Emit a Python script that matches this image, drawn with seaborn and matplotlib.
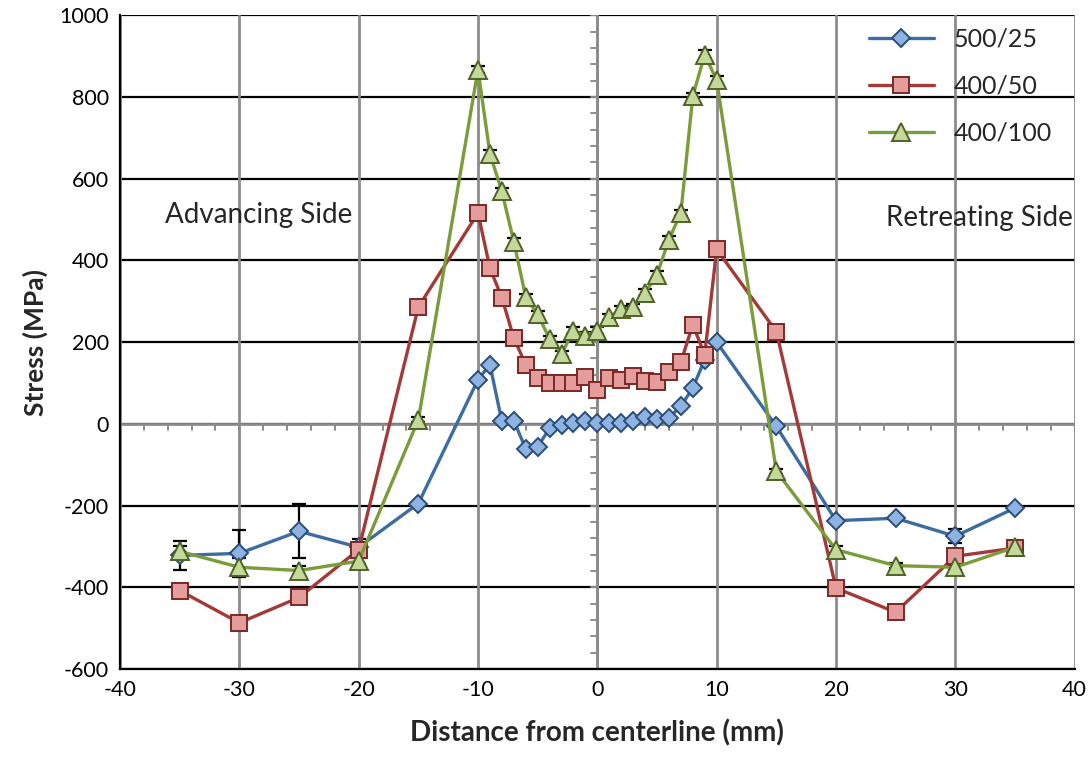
import numpy as np
import pandas as pd
import matplotlib
matplotlib.use("Agg")
import matplotlib.pyplot as plt
import seaborn as sns

# Measurement positions (mm from weld centerline)
dist_500_25 = [-35, -30, -25, -20, -15, -10, -9, -8, -7, -6, -5, -4, -3, -2, -1, 0,
               1, 2, 3, 4, 5, 6, 7, 8, 9, 10, 15, 20, 25, 30, 35]
stress_500_25 = [-322, -317, -263, -302, -195, 108, 145, 6, 8, -61, -56, -11, -2, 2, 6, 3,
                 3, 1, 6, 16, 12, 15, 43, 88, 157, 200, -6, -237, -231, -275, -206]
err_500_25 = [35, 56, 66, 20, 0, 0, 0, 0, 0, 0, 0, 0, 0, 0, 0, 0,
              0, 0, 0, 0, 0, 0, 0, 0, 0, 0, 0, 0, 0, 17, 0]

dist_400_50 = dist_500_25
stress_400_50 = [-408, -487, -425, -308, 286, 516, 381, 309, 210, 145, 113, 100, 100, 100, 114, 83,
                 113, 108, 116, 106, 102, 128, 151, 243, 169, 427, 226, -402, -461, -324, -304]
err_400_50 = [0, 0, 0, 10, 0, 0, 0, 0, 0, 0, 0, 0, 0, 0, 0, 0,
              0, 0, 0, 0, 0, 0, 0, 0, 0, 0, 0, 0, 0, 10, 0]

dist_400_100 = dist_500_25
stress_400_100 = [-312, -351, -359, -336, 10, 867, 661, 569, 446, 310, 268, 208, 171, 228, 216, 228,
                  261, 280, 286, 321, 365, 451, 516, 802, 904, 841, -116, -308, -347, -351, -302]
err_400_100 = [12, 23, 10, 8, 6, 8, 10, 8, 10, 8, 8, 8, 8, 8, 8, 8,
               8, 8, 8, 8, 8, 8, 8, 8, 10, 10, 6, 8, 6, 6, 6]

series_names = ["500/25", "400/50", "400/100"]
x_ticks = list(range(-40, 41, 10))
y_ticks = list(range(-600, 1001, 200))

sns.set_theme(style="white")
plt.rcParams["font.family"] = ["Lato", "DejaVu Sans"]
plt.rcParams["axes.unicode_minus"] = False

fig = plt.figure(figsize=(10.91, 7.65), dpi=100)
ax = fig.add_axes([0.110, 0.1255, 0.875, 0.8545])

styles = [
    dict(color="#3D6CA3", marker="D", markersize=9, markerfacecolor="#8DB3E2",
         markeredgecolor="#2B4C75", markeredgewidth=1.4),
    dict(color="#A33A37", marker="s", markersize=12, markerfacecolor="#E49D9B",
         markeredgecolor="#7A2826", markeredgewidth=1.4),
    dict(color="#7A9C3A", marker="^", markersize=13, markerfacecolor="#C4D89A",
         markeredgecolor="#4F6328", markeredgewidth=1.4),
]
data = [
    (dist_500_25, stress_500_25, err_500_25),
    (dist_400_50, stress_400_50, err_400_50),
    (dist_400_100, stress_400_100, err_400_100),
]

for name, (xs, ys, es), st in zip(series_names, data, styles):
    df = pd.DataFrame({"x": xs, "y": ys})
    sns.lineplot(data=df, x="x", y="y", estimator=None, sort=False, ax=ax,
                 linewidth=2.4, label=name, zorder=4, **st)
    es = np.asarray(es, dtype=float)
    mask = es > 0
    ax.errorbar(np.asarray(xs)[mask], np.asarray(ys)[mask], yerr=es[mask], fmt="none",
                ecolor="black", elinewidth=1.6, capsize=5, capthick=1.6, zorder=3)

ax.set_xlim(-40, 40)
ax.set_ylim(-600, 1000)
ax.set_xticks(x_ticks)
ax.set_yticks(y_ticks)

# Grid: black horizontal, grey vertical
for yv in y_ticks:
    ax.axhline(yv, color="black", linewidth=1.6, zorder=1)
for xv in x_ticks:
    ax.axvline(xv, color="#8C8C8C", linewidth=2.0, zorder=1)

# Crossing axes through the origin with minor ticks
ax.axhline(0, color="#8C8C8C", linewidth=2.0, zorder=1.5)
ax.axvline(0, color="#8C8C8C", linewidth=2.0, zorder=1.5)
for xv in np.arange(-40, 41, 2):
    ax.plot([xv, xv], [0, -14], color="#8C8C8C", linewidth=1.4, zorder=1.5)
for yv in np.arange(-600, 1001, 40):
    ax.plot([-0.5, 0], [yv, yv], color="#8C8C8C", linewidth=1.4, zorder=1.5)

for side in ["top", "right"]:
    ax.spines[side].set_visible(False)
ax.spines["left"].set_color("black")
ax.spines["left"].set_linewidth(1.6)
ax.spines["bottom"].set_color("black")
ax.spines["bottom"].set_linewidth(1.6)

ax.tick_params(axis="both", labelsize=15.5, length=0, pad=8, colors="black")
ax.set_xlabel("Distance from centerline (mm)", fontsize=20, fontweight="bold", labelpad=14)
ax.set_ylabel("Stress (MPa)", fontsize=19, fontweight="bold", labelpad=8)

ax.text(-28.4, 510, "Advancing Side", fontsize=20, ha="center", va="center")
ax.text(32.0, 505, "Retreating Side", fontsize=20, ha="center", va="center")

leg = ax.legend(loc="upper right", bbox_to_anchor=(1.0, 1.015), frameon=False,
                fontsize=18, handlelength=2.6, labelspacing=0.95)

fig.savefig("out.png", dpi=100)
